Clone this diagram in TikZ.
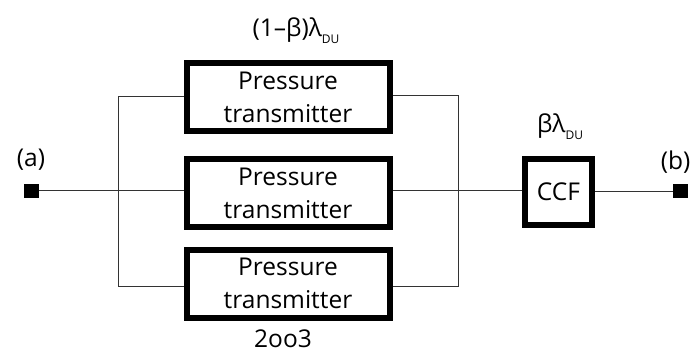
\documentclass[tikz,border=0pt]{standalone}
\usepackage{fontspec}
\setmainfont{Open Sans}
\begin{document}
\begin{tikzpicture}[x=1pt,y=-1pt,
  pt/.style={draw=black,line width=6pt,minimum width=203pt,minimum height=68pt,align=center,font=\fontsize{24.5}{33}\selectfont,inner sep=0pt},
  ccf/.style={draw=black,line width=6pt,minimum width=67pt,minimum height=66pt,font=\fontsize{24.5}{26}\selectfont,inner sep=0pt},
  term/.style={fill=black,minimum width=15pt,minimum height=14pt,inner sep=0pt},
  wire/.style={line width=1pt,draw=black!80},
  lbl/.style={font=\fontsize{24.5}{30}\selectfont,inner sep=0pt}]
\useasboundingbox (0,0) rectangle (692,355);
\node[pt] (p1) at (288,97.5) {Pressure\\transmitter};
\node[pt] (p2) at (288,193) {Pressure\\transmitter};
\node[pt] (p3) at (288,283.5) {Pressure\\transmitter};
\node[ccf] (ccf) at (558.5,192) {CCF};
\node[term] (a) at (31,191) {};
\node[term] (b) at (680.5,191.5) {};
\coordinate (l1) at (118,97);
\coordinate (l3) at (118,286);
\coordinate (r1) at (458,96);
\coordinate (r3) at (458,286);
\coordinate (rm) at (458,191);
\draw[wire] (a.east) -- (p2.west |- a.east);
\draw[wire] (p1.west |- l1) -- (l1) -- (l3) -- (p3.west |- l3);
\draw[wire] (p1.east |- r1) -- (r1) -- (r3) -- (p3.east |- r3);
\draw[wire] (p2.east |- rm) -- (ccf.west |- rm);
\draw[wire] (ccf.east |- b) -- (b.west);
\node[lbl] (t1) at (296,31) {(1--β)λ\raisebox{-7pt}{\fontsize{12}{12}\selectfont DU}};
\node[lbl] (t2) at (560,127) {βλ\raisebox{-7pt}{\fontsize{12}{12}\selectfont DU}};
\node[lbl] (ta) at (31,160) {(a)};
\node[lbl,anchor=east] (tb) at (690.5,162) {(b)};
\node[lbl] (t3) at (283,339) {2oo3};
\end{tikzpicture}
\end{document}
